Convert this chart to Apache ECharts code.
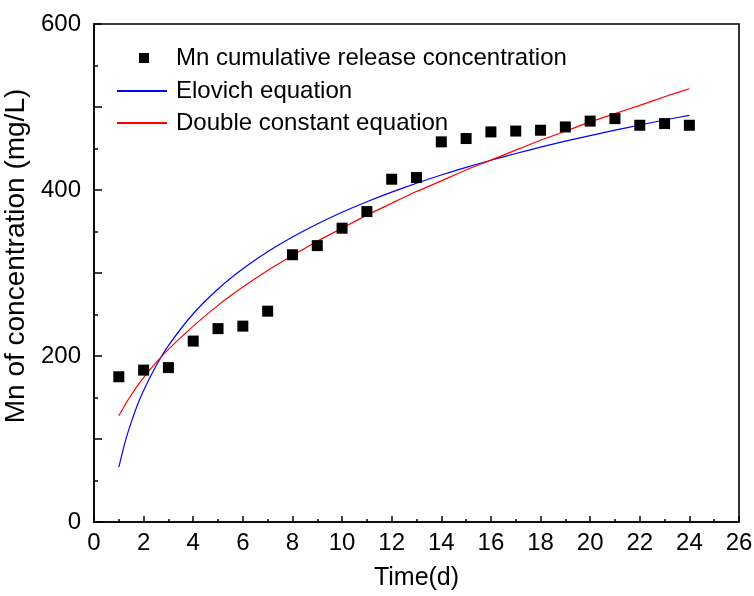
<!DOCTYPE html>
<html>
<head>
<meta charset="utf-8">
<script src="https://cdn.jsdelivr.net/npm/echarts@6/dist/echarts.min.js"></script>
<style>
  html, body { margin: 0; padding: 0; background: #fff; }
  #chart { width: 754px; height: 596px; }
</style>
</head>
<body>
<div id="chart"></div>
<script>
// Measured Mn cumulative release (mg/L) by day
const days = [1, 2, 3, 4, 5, 6, 7, 8, 9, 10, 11, 12, 13, 14, 15, 16, 17, 18, 19, 20, 21, 22, 23, 24];
const mnRelease = [175, 183, 186, 218, 233, 236, 254, 322, 333, 354, 374, 413, 415, 458, 462, 470, 471, 472, 476, 483, 486, 478, 480, 478];

// Fitted curves, sampled along the time axis
const fitDays = [1, 1.25, 1.5, 1.75, 2, 2.5, 3, 4, 5, 6, 7, 8, 9, 10, 11, 12, 13, 14, 15, 16, 17, 18, 19, 20, 21, 22, 23, 24];
const elovichFit = [66, 96, 120, 141, 158.5, 188, 212.6, 250.9, 280.7, 305, 325.6, 343.4, 359.1, 373.2, 385.9, 397.5, 408.2, 418.1, 427.3, 435.9, 444, 451.6, 458.8, 465.6, 472.1, 478.3, 484.3, 490];
const doubleConstFit = [128, 141, 153, 164, 174, 192, 208, 236, 261, 283, 303, 321, 338.3, 354, 369.7, 384, 398.1, 411, 424.1, 436, 448.1, 460, 470.8, 482, 492.1, 502, 512.3, 522];

// Axis ticks
const xTicks = { min: 0, max: 26, step: 2 };
const yTicks = { min: 0, max: 600, step: 100, labelStep: 200 };

const seriesNames = ['Mn cumulative release concentration', 'Elovich equation', 'Double constant equation'];
const seriesColors = ['#000000', '#0000ff', '#ff0000'];

const zip = (xs, ys) => xs.map((x, i) => [x, ys[i]]);

const font = 'Liberation Sans, Arial, Helvetica, sans-serif';
const legendText = { fontFamily: font, fontSize: 24, color: '#000', lineHeight: 33 };

// One legend block per entry: a square for the data points, a thin bar for each fitted curve
const legendBlock = (i, opts) => Object.assign({
  orient: 'vertical',
  padding: 0,
  icon: 'rect',
  selectedMode: false,
  itemStyle: { color: seriesColors[i], borderColor: seriesColors[i], borderWidth: 0, opacity: 1 },
  data: [{ name: seriesNames[i], itemStyle: { color: seriesColors[i], borderColor: seriesColors[i], borderWidth: 0, opacity: 1 } }]
}, opts);

const chart = echarts.init(document.getElementById('chart'), null, { renderer: 'canvas' });

chart.setOption({
  animation: false,
  backgroundColor: '#fff',
  color: seriesColors,
  grid: {
    left: 94, right: 15, top: 24, bottom: 74,
    containLabel: false,
    outerBoundsMode: 'none',
    show: true, borderColor: '#000', borderWidth: 1.6, backgroundColor: 'transparent'
  },
  legend: [
    legendBlock(0, {
      left: 139, top: 41.5, itemWidth: 10, itemHeight: 10,
      textStyle: Object.assign({ padding: [0, 0, 0, 22] }, legendText)
    }),
    legendBlock(1, {
      left: 117, top: 74.5, itemWidth: 50, itemHeight: 2,
      textStyle: Object.assign({ padding: [0, 0, 0, 4] }, legendText)
    }),
    legendBlock(2, {
      left: 117, top: 106.5, itemWidth: 50, itemHeight: 2,
      textStyle: Object.assign({ padding: [0, 0, 0, 4] }, legendText)
    })
  ],
  xAxis: {
    type: 'value',
    min: xTicks.min, max: xTicks.max, interval: xTicks.step,
    name: 'Time(d)',
    nameLocation: 'middle',
    nameGap: 44,
    nameTextStyle: { fontFamily: font, fontSize: 25, color: '#000' },
    axisLine: { show: true, onZero: false, lineStyle: { color: '#000', width: 1.6 } },
    axisTick: { show: true, inside: true, length: 6, lineStyle: { color: '#000', width: 1.5 } },
    minorTick: { show: true, splitNumber: 2, length: 3, lineStyle: { color: '#000', width: 1.5 } },
    axisLabel: { fontFamily: font, fontSize: 24, color: '#000', margin: 9 },
    splitLine: { show: false }
  },
  yAxis: {
    type: 'value',
    min: yTicks.min, max: yTicks.max, interval: yTicks.step,
    name: 'Mn of concentration (mg/L)',
    nameLocation: 'middle',
    nameGap: 56,
    nameTextStyle: { fontFamily: font, fontSize: 28, color: '#000', padding: [0, 0, 0, 34] },
    axisLine: { show: true, onZero: false, lineStyle: { color: '#000', width: 1.6 } },
    axisTick: { show: true, inside: true, length: 8, lineStyle: { color: '#000', width: 1.5 } },
    minorTick: { show: true, splitNumber: 2, length: 4, lineStyle: { color: '#000', width: 1.5 } },
    axisLabel: {
      fontFamily: font, fontSize: 24, color: '#000', margin: 13,
      formatter: v => (v % yTicks.labelStep === 0 ? String(v) : '')
    },
    splitLine: { show: false }
  },
  series: [
    {
      name: seriesNames[0],
      type: 'scatter',
      symbol: 'rect',
      symbolSize: 11,
      itemStyle: { color: seriesColors[0], opacity: 1 },
      data: zip(days, mnRelease),
      z: 3
    },
    {
      name: seriesNames[1],
      type: 'line',
      symbol: 'none',
      smooth: 0.2,
      lineStyle: { color: seriesColors[1], width: 1.2 },
      itemStyle: { color: seriesColors[1] },
      data: zip(fitDays, elovichFit),
      z: 2
    },
    {
      name: seriesNames[2],
      type: 'line',
      symbol: 'none',
      smooth: 0.2,
      lineStyle: { color: seriesColors[2], width: 1.2 },
      itemStyle: { color: seriesColors[2] },
      data: zip(fitDays, doubleConstFit),
      z: 2
    }
  ]
});
</script>
</body>
</html>
